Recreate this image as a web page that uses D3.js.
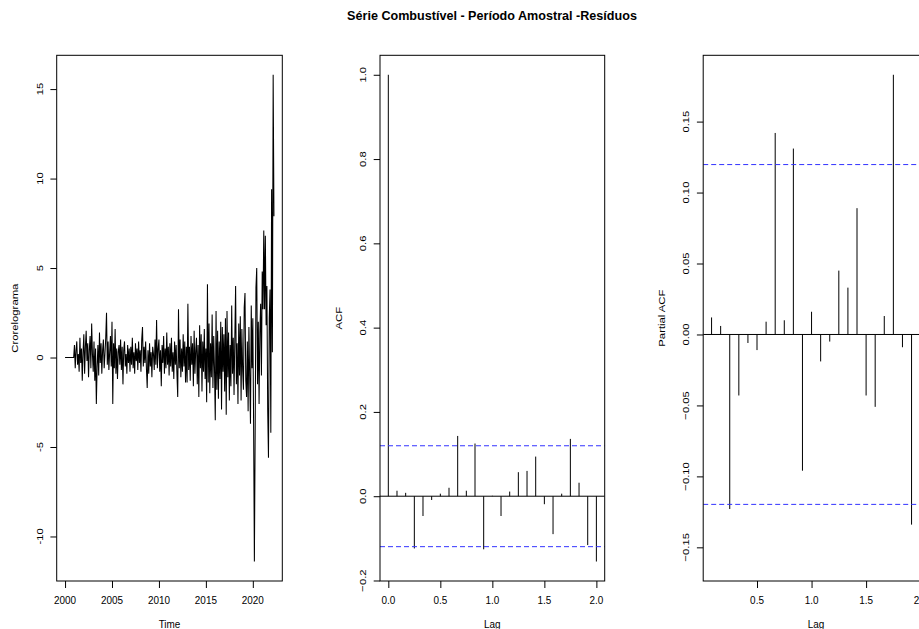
<!DOCTYPE html>
<html><head><meta charset="utf-8">
<script src="https://cdn.jsdelivr.net/npm/d3@7"></script>
<style>
body{margin:0;background:#fff}
svg{display:block}
text{font-family:"Liberation Sans",Arial,sans-serif;fill:#000}
</style>
</head><body>
<svg id="c" width="919" height="629"></svg>
<script>
const chartTitle = "Série Combustível - Período Amostral -Resíduos";
const seriesStart = 2000;
const seriesFreq = 12;
const residuals = [
  0,0,0,0,0,0,0,0,0,0,0,0,
  0.7,-0.6,0.4,0.9,-0.4,0.2,-0.8,1.1,-0.3,0.5,-1.3,0.3,
  1.3,-0.9,0.6,1.5,-0.2,0.8,-1.1,0.4,1.2,-0.6,1.9,0.2,
  -0.8,0.9,-1.3,0.5,-2.6,-0.5,0.7,-1.0,1.4,-0.3,0.8,-0.9,
  0.4,1.0,-0.6,0.2,1.1,2.5,-0.4,0.9,-0.7,0.3,1.2,-0.5,
  2.0,-2.6,0.8,-0.6,1.6,-0.9,0.5,-1.2,0.3,0.7,-0.4,1.0,
  -0.7,0.6,-1.5,0.4,0.9,-0.5,0.2,-0.9,0.7,-0.3,0.5,-0.8,
  0.6,-0.4,1.1,-0.6,0.3,-0.9,0.8,-0.2,0.5,-0.7,0.9,-0.3,
  0.4,-0.8,1.0,1.7,-0.5,0.6,-0.3,0.9,-0.6,-1.7,0.4,-0.9,
  0.8,-0.5,0.3,-1.1,0.6,0.2,-0.7,1.0,-0.4,2.1,-0.6,0.5,
  1.0,-0.8,0.4,-1.6,0.7,-0.3,1.2,-0.9,0.5,-0.6,1.4,-0.4,
  0.6,-1.0,0.8,-0.5,1.1,-0.8,0.3,-1.2,0.9,-0.4,0.7,-0.9,
  -2.2,2.7,-0.6,1.0,-1.1,0.5,-0.8,1.3,-0.5,0.9,-1.4,0.6,
  -1.4,3.0,-0.7,0.6,-1.3,1.2,-0.4,0.8,-1.6,1.5,-0.9,0.4,
  1.1,-1.5,0.7,-2.2,1.8,-0.6,1.3,-1.9,0.9,-0.8,1.6,-1.2,
  0.5,-2.5,4.1,-1.4,1.9,-2.0,0.8,-1.1,2.4,-1.7,1.2,-0.6,
  -3.5,2.6,-1.8,1.5,-2.3,0.9,-1.2,2.0,-2.9,1.7,-0.8,1.3,
  -1.9,2.2,-3.2,2.6,-1.1,1.4,-2.4,0.7,-1.6,2.9,-0.9,1.1,
  -2.1,1.1,4.0,-1.5,0.8,-2.6,1.9,-1.0,2.3,-2.4,1.6,-0.7,
  -1.8,2.8,3.6,-1.3,-2.2,0.9,-3.0,1.7,-1.1,-3.7,2.9,-0.6,
  2.2,-3.7,-11.4,-4.1,3.9,5.0,-1.5,2.0,-2.6,1.4,3.0,-1.0,
  4.8,2.7,7.1,2.7,6.8,1.8,4.0,-2.9,-5.6,2.2,3.8,-4.2,
  9.4,0.3,15.8,7.9
];
const acfValues = [1.0,0.013,0.008,-0.124,-0.047,-0.009,0.006,0.020,0.143,0.013,0.125,-0.126,0.001,
  -0.047,0.011,0.057,0.060,0.094,-0.019,-0.090,0.006,0.136,0.032,-0.116,-0.155];
const pacfValues = [0.012,0.006,-0.123,-0.043,-0.006,-0.011,0.009,0.142,0.010,0.131,-0.096,0.016,
  -0.019,-0.005,0.045,0.033,0.089,-0.043,-0.051,0.013,0.183,-0.009,-0.134,-0.160];
const tsTicksY = [-10,-5,0,5,10,15];
const tsTicksX = [2000,2005,2010,2015,2020];
const acfTicksY = [-0.2,0,0.2,0.4,0.6,0.8,1.0];
const acfTicksX = [0,0.5,1,1.5,2];
const pacfTicksY = [-0.15,-0.1,-0.05,0,0.05,0.1,0.15];
const pacfTicksX = [0.5,1,1.5,2];
const labels = {ts:["Time","Crorelograma"], acf:["Lag","ACF"], pacf:["Lag","Partial ACF"]};

const svg = d3.select("#c");
const SQ = 0.88, FS = 11.3;
const TOP = 55.3, BOT = 581;
const clim = 1.96/Math.sqrt(residuals.length);

function expand(a,b){const r=b-a;return [a-0.04*r,b+0.04*r];}

function txt(g,x,y,s,rot){
  return g.append("text")
    .attr("transform",`translate(${x},${y}) scale(${SQ},1)`+(rot?` rotate(${rot})`:""))
    .attr("text-anchor","middle").attr("font-size",FS).text(s);
}

function panel(id,left,right,xDom,yDom,xTicks,yTicks,xFmt,yFmt,xl,yl){
  const g = svg.append("g");
  const x = d3.scaleLinear().domain(xDom).range([left,right]);
  const y = d3.scaleLinear().domain(yDom).range([BOT,TOP]);
  svg.append("defs").append("clipPath").attr("id","clip"+id)
    .append("rect").attr("x",left).attr("y",TOP).attr("width",right-left).attr("height",BOT-TOP);
  const plot = g.append("g").attr("clip-path",`url(#clip${id})`);
  const ax = g.append("g").attr("transform",`translate(0,${BOT})`)
    .call(d3.axisBottom(x).tickValues(xTicks).tickSize(7).tickFormat(()=>""));
  ax.select(".domain").remove();
  ax.selectAll("line").attr("stroke","#000");
  xTicks.forEach(v=>txt(g,x(v),604,xFmt(v)));
  const ay = g.append("g").attr("transform",`translate(${left},0)`)
    .call(d3.axisLeft(y).tickValues(yTicks).tickSize(6.3).tickFormat(()=>""));
  ay.select(".domain").remove();
  ay.selectAll("line").attr("stroke","#000");
  yTicks.forEach(v=>txt(g,left-13.8,y(v),yFmt(v),-90));
  txt(g,(left+right)/2,628,xl);
  txt(g,left-38.3,(TOP+BOT)/2,yl,-90);
  g.append("rect").attr("x",left).attr("y",TOP).attr("width",right-left).attr("height",BOT-TOP)
    .attr("fill","none").attr("stroke","#000").attr("stroke-width",1);
  return {plot,x,y};
}

// Panel 1: time series
{
  const tEnd = seriesStart + (residuals.length-1)/seriesFreq;
  const yExt = d3.extent(residuals);
  const p = panel(1,56.7,282.3,expand(seriesStart,tEnd),expand(yExt[0],yExt[1]),
    tsTicksX,tsTicksY,d=>String(d),d=>String(d),labels.ts[0],labels.ts[1]);
  const line = d3.line().x((d,i)=>p.x(seriesStart+i/seriesFreq)).y(d=>p.y(d));
  p.plot.append("path").datum(residuals).attr("d",line)
    .attr("fill","none").attr("stroke","#000").attr("stroke-width",1.05);
}
// Panel 2: ACF
{
  const lags = acfValues.map((v,i)=>i/seriesFreq);
  const lo = Math.min(-clim,d3.min(acfValues)), hi = Math.max(clim,d3.max(acfValues));
  const p = panel(2,380,604.7,expand(0,lags[lags.length-1]),expand(lo,hi),
    acfTicksX,acfTicksY,d3.format(".1f"),d3.format(".1f"),labels.acf[0],labels.acf[1]);
  p.plot.selectAll("line.h").data(acfValues).enter().append("line")
    .attr("x1",(d,i)=>p.x(lags[i])).attr("x2",(d,i)=>p.x(lags[i]))
    .attr("y1",p.y(0)).attr("y2",d=>p.y(d)).attr("stroke","#000");
  p.plot.append("line").attr("x1",380).attr("x2",604.7).attr("y1",p.y(0)).attr("y2",p.y(0)).attr("stroke","#000");
  [clim,-clim].forEach(c=>p.plot.append("line").attr("x1",380).attr("x2",604.7)
    .attr("y1",p.y(c)).attr("y2",p.y(c)).attr("stroke","#3333ff").attr("stroke-dasharray","5,3"));
}
// Panel 3: PACF (right part falls outside the picture, as in the reference)
{
  const lags = pacfValues.map((v,i)=>(i+1)/seriesFreq);
  const lo = Math.min(-clim,d3.min(pacfValues)), hi = Math.max(clim,d3.max(pacfValues));
  const left = 703.2, right = 929;
  const p = panel(3,left,right,expand(lags[0],lags[lags.length-1]),expand(lo,hi),
    pacfTicksX,pacfTicksY,d3.format(".1f"),d3.format(".2f"),labels.pacf[0],labels.pacf[1]);
  p.plot.selectAll("line.h").data(pacfValues).enter().append("line")
    .attr("x1",(d,i)=>p.x(lags[i])).attr("x2",(d,i)=>p.x(lags[i]))
    .attr("y1",p.y(0)).attr("y2",d=>p.y(d)).attr("stroke","#000");
  p.plot.append("line").attr("x1",left).attr("x2",right).attr("y1",p.y(0)).attr("y2",p.y(0)).attr("stroke","#000");
  [clim,-clim].forEach(c=>p.plot.append("line").attr("x1",left).attr("x2",right)
    .attr("y1",p.y(c)).attr("y2",p.y(c)).attr("stroke","#3333ff").attr("stroke-dasharray","5,3"));
}
// Title
{
  const t = svg.append("text").attr("text-anchor","middle").attr("font-weight","bold")
    .attr("font-size",13.5).attr("transform","translate(492,20)").text(chartTitle);
  const w = t.node().getComputedTextLength();
  t.attr("transform",`translate(492,20) scale(${290/w},1)`);
}
</script>
</body></html>
